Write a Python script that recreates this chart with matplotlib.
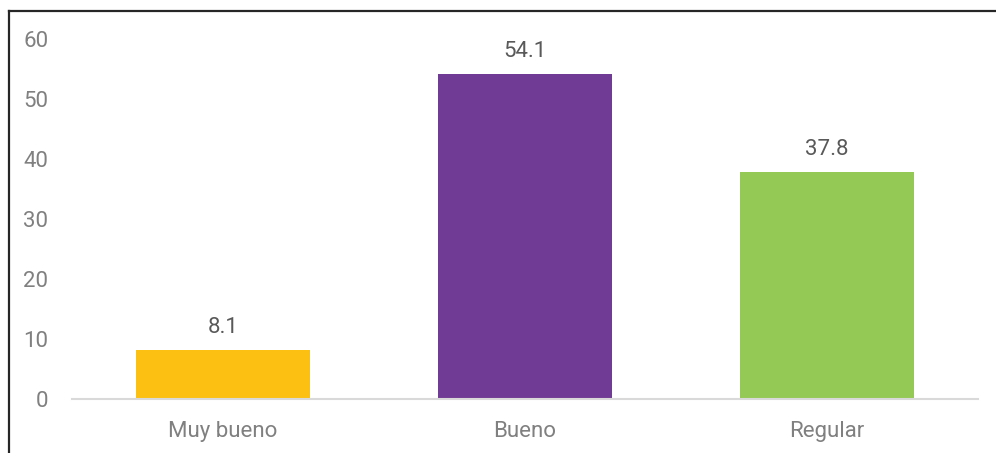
import matplotlib.pyplot as plt
from matplotlib.lines import Line2D

categories = ["Muy bueno", "Bueno", "Regular"]
values = [8.1, 54.1, 37.8]
colors = ["#FCC012", "#703B94", "#95C955"]
yticks = [0, 10, 20, 30, 40, 50, 60]

plt.rcParams['font.family'] = ['Roboto', 'DejaVu Sans']

fig = plt.figure(figsize=(9.96, 4.53), dpi=100)
ax = fig.add_axes([0.0723, 0.1192, 0.9097, 0.7947])

x = range(len(categories))
bars = ax.bar(x, values, width=0.576, color=colors)
for b, v in zip(bars, values):
    ax.annotate(f"{v:.1f}", (b.get_x() + b.get_width() / 2, v),
                xytext=(0, 9), textcoords="offset points",
                ha="center", va="bottom", fontsize=16, color="#595959")

ax.set_xlim(-0.5, 2.5)
ax.set_ylim(0, 60)
ax.set_yticks(yticks)
ax.set_xticks(list(x))
ax.set_xticklabels(categories)
ax.tick_params(length=0, labelsize=16, colors="#808080")
ax.tick_params(axis="y", pad=17)
ax.tick_params(axis="x", pad=16)
for s in ["top", "right", "left"]:
    ax.spines[s].set_visible(False)
ax.spines["bottom"].set_color("#d9d9d9")
ax.spines["bottom"].set_linewidth(1.5)

# outer frame (cropped: only left and top edges visible)
fig.add_artist(Line2D([9 / 996, 9 / 996], [0, 1 - 11 / 453], color="#262626", lw=1.6,
                      transform=fig.transFigure))
fig.add_artist(Line2D([9 / 996, 1], [1 - 11 / 453, 1 - 11 / 453], color="#262626", lw=1.6,
                      transform=fig.transFigure))

fig.savefig("out.png", dpi=100)
